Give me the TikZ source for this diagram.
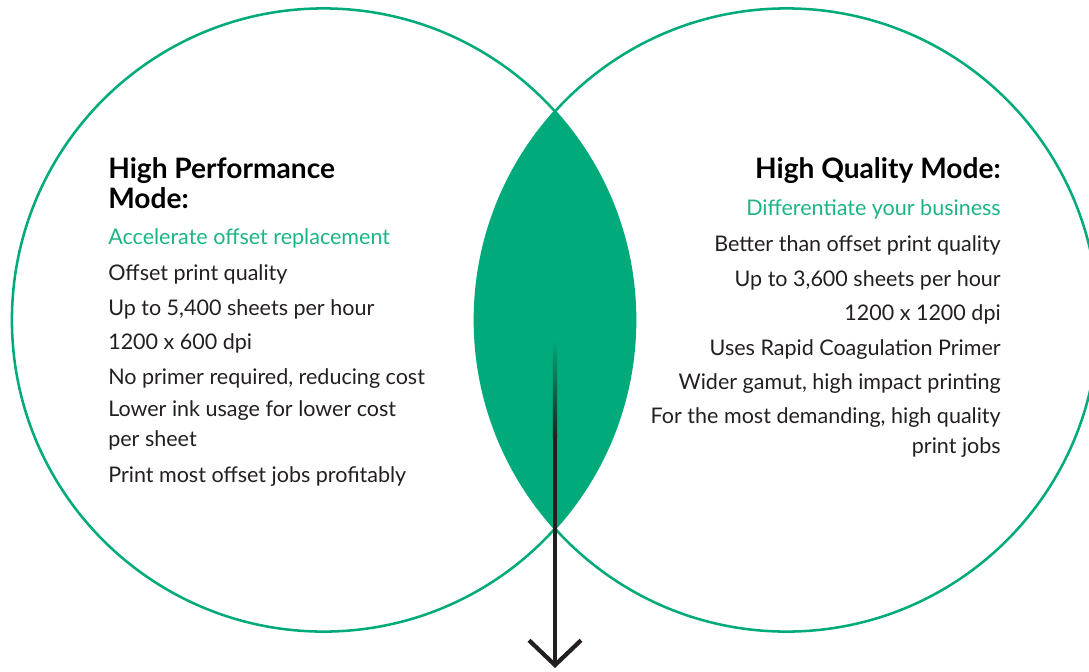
\documentclass[tikz,border=0pt]{standalone}
\usepackage{fontspec}
\setmainfont{Lato}
\usepackage{tikz}
\usetikzlibrary{positioning,arrows.meta}
\definecolor{hpgreen}{RGB}{0,170,122}
\definecolor{hplight}{RGB}{28,180,134}
\definecolor{ink}{RGB}{35,31,32}

\begin{document}
\begin{tikzpicture}[
  x=0.025cm, y=-0.025cm,
  ring/.style={draw=hpgreen, line width=1.8pt},
  title/.style={font=\fontsize{20}{21.3}\selectfont\bfseries, inner sep=0pt, text=black},
  lead/.style={font=\fontsize{15.3}{21.3}\selectfont, inner sep=0pt, text=hplight},
  item/.style={font=\fontsize{15.3}{21.3}\selectfont, inner sep=0pt, text=ink},
  arrow/.style={draw=ink, line width=3pt}
]
  \useasboundingbox (0,0) rectangle (1089,671);
  \clip (0,0) rectangle (1089,671);

  % circles and overlap
  \coordinate (cl) at (323.5,320);
  \coordinate (cr) at (786.5,320);
  \begin{scope}
    \clip (cl) circle[radius=7.7875cm];
    \fill[hpgreen] (cr) circle[radius=7.7875cm];
  \end{scope}
  \draw[ring] (cl) circle[radius=7.7875cm];
  \draw[ring] (cr) circle[radius=7.7875cm];

  % High Performance Mode
  \node[title, anchor=north west, align=left] (hpTitle) at (108,157) {High Performance\\Mode:};
  \node[lead, anchor=base west] (hpLead) at (108,244) {Accelerate offset replacement};
  \node[item, anchor=base west] (hp1) at (108,280) {Offset print quality};
  \node[item, anchor=base west] (hp2) at (108,315) {Up to 5,400 sheets per hour};
  \node[item, anchor=base west] (hp3) at (108,349) {1200 x 600 dpi};
  \node[item, anchor=base west] (hp4) at (108,384) {No primer required, reducing cost};
  \node[item, anchor=north west, align=left] (hp5) at (108,400) {Lower ink usage for lower cost\\per sheet};
  \node[item, anchor=base west] (hp6) at (108,482) {Print most offset jobs profitably};

  % High Quality Mode
  \node[title, anchor=base east] (hqTitle) at (1001,178) {High Quality Mode:};
  \node[lead, anchor=base east] (hqLead) at (1001,215) {Differentiate your business};
  \node[item, anchor=base east] (hq1) at (1001,251) {Better than offset print quality};
  \node[item, anchor=base east] (hq2) at (1001,286) {Up to 3,600 sheets per hour};
  \node[item, anchor=base east] (hq3) at (1001,320) {1200 x 1200 dpi};
  \node[item, anchor=base east] (hq4) at (1001,355) {Uses Rapid Coagulation Primer};
  \node[item, anchor=base east] (hq5) at (1001,389) {Wider gamut, high impact printing};
  \node[item, anchor=north east, align=right] (hq6) at (1001,407) {For the most demanding, high quality\\print jobs};

  % arrow out of the overlap
  \coordinate (fadeTop) at (555,340);
  \coordinate (fadeEnd) at (555,437);
  \coordinate (tip) at (555,668);
  \shade[top color=hpgreen, bottom color=ink] ([xshift=-1.5pt]fadeTop) rectangle ([xshift=1.5pt]fadeEnd);
  \draw[arrow, -{Straight Barb[length=0.62cm, width=1.3cm]}] (fadeEnd) -- (tip);
\end{tikzpicture}
\end{document}
